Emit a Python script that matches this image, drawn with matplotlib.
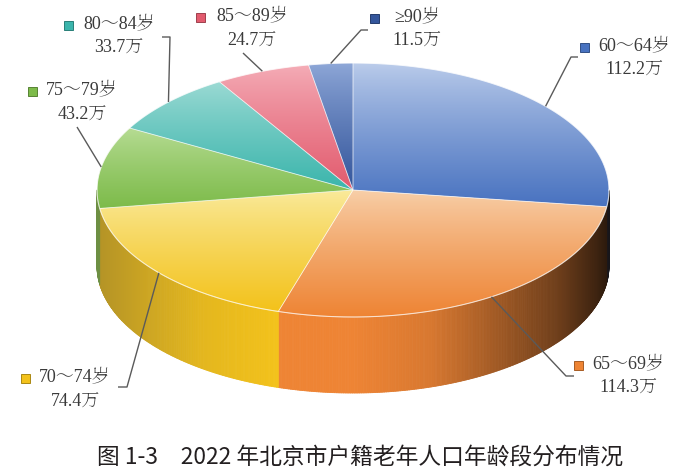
import numpy as np
import matplotlib
matplotlib.use("Agg")
import matplotlib.pyplot as plt
from matplotlib.patches import Polygon, Rectangle
from matplotlib.collections import PolyCollection
from matplotlib.colors import to_rgb
from matplotlib import font_manager

# ---- data ----
categories = ["60～64岁", "65～69岁", "70～74岁", "75～79岁", "80～84岁", "85～89岁", "≥90岁"]
values = [112.2, 114.3, 74.4, 43.2, 33.7, 24.7, 11.5]
value_labels = ["112.2万", "114.3万", "74.4万", "43.2万", "33.7万", "24.7万", "11.5万"]
title = "图 1-3\u30002022 年北京市户籍老年人口年龄段分布情况"

# ---- style ----
base_colors = ["#4872C0", "#EE8434", "#F3C21B", "#7DBB4A", "#3BB5AC", "#E25B6E", "#34569C"]
light_colors = ["#BCCDEB", "#F8D0AA", "#FAEB9E", "#B8DD96", "#9EDBD5", "#F5AEB8", "#8FA8D8"]

# label layout: marker center, text center x, line1 y, line2 y, elbow points
label_layout = [
    dict(m=(584, 47), tx=634.5, y1=47, y2=70, elbow=[(578, 57), (571, 57)]),
    dict(m=(578, 365), tx=628, y1=365, y2=388, elbow=[(574, 376), (566, 376)]),
    dict(m=(25, 378), tx=75, y1=378, y2=402, elbow=[(118, 387), (127, 387)]),
    dict(m=(32, 91), tx=82, y1=91, y2=115, elbow=[(77, 127)]),
    dict(m=(68, 25), tx=119, y1=25, y2=48, elbow=[(162, 37), (170, 37)]),
    dict(m=(200, 17), tx=252, y1=17, y2=41, elbow=[(243, 53)]),
    dict(m=(374, 18), tx=417, y1=18, y2=41, elbow=[(368, 30), (361, 30)]),
]

cx, cy, a, b, depth = 353.0, 190.0, 256.0, 127.0, 76.0

installed = {f.name for f in font_manager.fontManager.ttflist}
cands = ["Liberation Serif", "DejaVu Serif", "Noto Serif CJK SC", "Noto Serif SC",
         "Noto Sans CJK SC", "DejaVu Sans"]
font_lbl = [f for f in cands if f in installed] or ["DejaVu Sans"]

fig = plt.figure(figsize=(6.99, 4.75), dpi=100)
ax = fig.add_axes([0, 0, 1, 1])
ax.set_xlim(0, 699)
ax.set_ylim(475, 0)
ax.axis("off")


def pt(t_deg, dy=0.0):
    t = np.radians(t_deg)
    return cx + a * np.cos(t), cy - b * np.sin(t) + dy


total = float(sum(values))
fracs = np.array(values) / total
cum = np.concatenate([[0], np.cumsum(fracs)])
t_start = 90 - cum[:-1] * 360
t_end = 90 - cum[1:] * 360


def side_shade(u):
    return np.interp(u, [-1, -0.8, -0.6, -0.3, 0, 0.3, 0.55, 0.8, 0.95, 1.0],
                     [0.6, 0.76, 0.9, 1.0, 1.0, 0.9, 0.66, 0.42, 0.2, 0.1])


tint_left = np.array([0.33, 0.30, 0.22])
tint_right = np.array([0.07, 0.045, 0.03])

# ---- side walls ----
polys, cols = [], []
for i in range(len(values)):
    ts, te = t_start[i], t_end[i]
    base = np.array(to_rgb(base_colors[i]))
    for shift in (0, 360):
        lo = max(te + shift, -180)
        hi = min(ts + shift, 0)
        if hi <= lo:
            continue
        n = max(2, int((hi - lo) / 0.4))
        tt = np.linspace(hi, lo, n + 1)
        for k in range(n):
            x1, y1 = pt(tt[k])
            x2, y2 = pt(tt[k + 1])
            polys.append([(x1, y1), (x2, y2), (x2, y2 + depth), (x1, y1 + depth)])
            u = ((x1 + x2) / 2 - cx) / a
            f = side_shade(u)
            tint = tint_left if u < 0 else tint_right
            cols.append(np.clip(base * f + (1 - f) * tint, 0, 1))
pc = PolyCollection(polys, facecolors=cols, edgecolors=cols, linewidths=0.6, zorder=1)
ax.add_collection(pc)

# ---- top faces with vertical gradient ----
for i in range(len(values)):
    ts, te = t_start[i], t_end[i]
    tt = np.linspace(ts, te, 200)
    xs, ys = pt(tt)
    verts = np.vstack([[cx, cy], np.column_stack([xs, ys])])
    poly = Polygon(verts, closed=True, facecolor="none", edgecolor="none", zorder=2)
    ax.add_patch(poly)
    y0, y1 = verts[:, 1].min(), verts[:, 1].max()
    x0, x1 = verts[:, 0].min(), verts[:, 0].max()
    s = np.linspace(0, 1, 256) ** 0.85
    lc = np.array(to_rgb(light_colors[i]))
    bc = np.array(to_rgb(base_colors[i]))
    grad = (lc[None, :] * (1 - s[:, None]) + bc[None, :] * s[:, None])[:, None, :]
    im = ax.imshow(grad, extent=(x0, x1, y0, y1), origin="lower", aspect="auto",
                   interpolation="bilinear", zorder=2)
    im.set_clip_path(poly)
    ax.add_patch(Polygon(verts, closed=True, facecolor="none",
                         edgecolor=(1, 1, 1, 0.45), linewidth=0.6, zorder=3))

# rim highlight
tt = np.linspace(0, 360, 400)
rx, ry = pt(tt)
ax.plot(rx, ry, color="white", alpha=0.6, linewidth=0.8, zorder=3)

ax.set_xlim(0, 699)
ax.set_ylim(475, 0)

# ---- leader lines, markers and labels ----
for i in range(len(values)):
    lay = label_layout[i]
    tm = (t_start[i] + t_end[i]) / 2
    ax_, ay_ = pt(tm)
    pts = lay["elbow"] + [(ax_, ay_)]
    px, py = zip(*pts)
    ax.plot(px, py, color="#5a5a5a", linewidth=1.0, zorder=4, solid_capstyle="butt")
    mx, my = lay["m"]
    ax.add_patch(Rectangle((mx - 4.5, my - 4.5), 9, 9, facecolor=base_colors[i],
                           edgecolor=np.array(to_rgb(base_colors[i])) * 0.7,
                           linewidth=0.7, zorder=5))
    ax.text(lay["tx"], lay["y1"], categories[i], ha="center", va="center",
            fontsize=13, family=font_lbl, color="#3a3a3a", zorder=5)
    ax.text(lay["tx"], lay["y2"], value_labels[i], ha="center", va="center",
            fontsize=13, family=font_lbl, color="#3a3a3a", zorder=5)

ax.text(360, 457, title, ha="center", va="center", fontsize=16.4,
        family=["Noto Sans CJK SC", "DejaVu Sans"], color="#231f20")

fig.savefig("out.png", dpi=100, facecolor="white")
